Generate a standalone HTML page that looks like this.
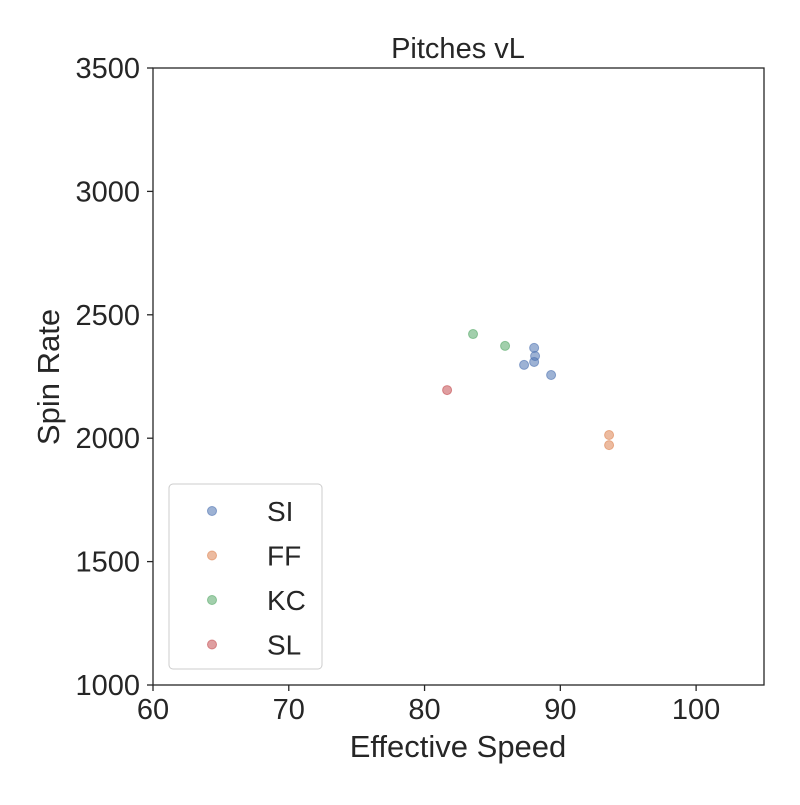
<!DOCTYPE html>
<html><head><meta charset="utf-8"><style>
body{margin:0;background:#fff;}
text{font-family:"Liberation Sans",Arial,sans-serif;fill:#262626;}
</style></head><body>
<svg id="chart" width="800" height="800">
<rect x="0" y="0" width="800" height="800" fill="#fff"/>
<g id="marks"></g>
<rect x="153" y="68" width="611" height="617" fill="none" stroke="#262626" stroke-width="1.3"/>
<g id="axes"></g>
<text x="458" y="58" font-size="29" text-anchor="middle">Pitches vL</text>
<text x="458" y="757" font-size="31" text-anchor="middle">Effective Speed</text>
<text x="59" y="377" font-size="31" text-anchor="middle" transform="rotate(-90 59 377)">Spin Rate</text>
<g>
<rect x="169" y="484" width="153" height="185" rx="4" fill="#fff" stroke="#ccc" stroke-width="1"/>
<g id="legend"></g>
</g>
</svg>
<script>
const xTicks=[60,70,80,90,100];
const yTicks=[1000,1500,2000,2500,3000,3500];
const categories=["SI","FF","KC","SL"];
const colors=["#4c72b0","#dd8452","#55a868","#c44e52"];
const siX=[88.07,88.14,88.07,87.33,89.32];
const siY=[2366,2333,2309,2297,2256];
const ffX=[93.59,93.59];
const ffY=[2013,1972];
const kcX=[83.57,85.93];
const kcY=[2422,2374];
const slX=[81.66];
const slY=[2195];
const NS="http://www.w3.org/2000/svg";
const xs=v=>153+(v-60)*(611/45);
const ys=v=>685-(v-1000)*(617/2500);
const series=[[siX,siY],[ffX,ffY],[kcX,kcY],[slX,slY]];
const marks=document.getElementById('marks');
series.forEach((s,i)=>{s[0].forEach((x,j)=>{
 const c=document.createElementNS(NS,'circle');
 c.setAttribute('cx',xs(x));c.setAttribute('cy',ys(s[1][j]));c.setAttribute('r',4.5);
 c.setAttribute('fill',colors[i]);c.setAttribute('fill-opacity',0.55);c.setAttribute('stroke',colors[i]);c.setAttribute('stroke-opacity',0.6);
 
 
 marks.appendChild(c);});});
const axes=document.getElementById('axes');
xTicks.forEach(t=>{const x=xs(t);
 const l=document.createElementNS(NS,'line');l.setAttribute('x1',x);l.setAttribute('x2',x);l.setAttribute('y1',685);l.setAttribute('y2',691);l.setAttribute('stroke','#262626');l.setAttribute('stroke-width',1.3);
 
 
 axes.appendChild(l);
 const tx=document.createElementNS(NS,'text');tx.setAttribute('x',x);tx.setAttribute('y',719);tx.setAttribute('font-size',29);tx.setAttribute('text-anchor','middle');tx.textContent=t;
 
 
 axes.appendChild(tx);});
yTicks.forEach(t=>{const y=ys(t);
 const l=document.createElementNS(NS,'line');l.setAttribute('x1',147);l.setAttribute('x2',153);l.setAttribute('y1',y);l.setAttribute('y2',y);l.setAttribute('stroke','#262626');l.setAttribute('stroke-width',1.3);
 
 
 axes.appendChild(l);
 const tx=document.createElementNS(NS,'text');tx.setAttribute('x',140);tx.setAttribute('y',y+10);tx.setAttribute('font-size',29);tx.setAttribute('text-anchor','end');tx.textContent=t;
 
 
 axes.appendChild(tx);});
const lg=document.getElementById('legend');
categories.forEach((c,i)=>{const y=511+i*44.5;
 const g=document.createElementNS(NS,'g');
 
 
 const ci=document.createElementNS(NS,'circle');ci.setAttribute('cx',212);ci.setAttribute('cy',y);ci.setAttribute('r',4.5);ci.setAttribute('fill',colors[i]);ci.setAttribute('fill-opacity',0.55);ci.setAttribute('stroke',colors[i]);ci.setAttribute('stroke-opacity',0.6);
 g.appendChild(ci);
 const tx=document.createElementNS(NS,'text');tx.setAttribute('x',267);tx.setAttribute('y',y+10);tx.setAttribute('font-size',28);tx.textContent=c;
 g.appendChild(tx);lg.appendChild(g);});
</script>
</body></html>
